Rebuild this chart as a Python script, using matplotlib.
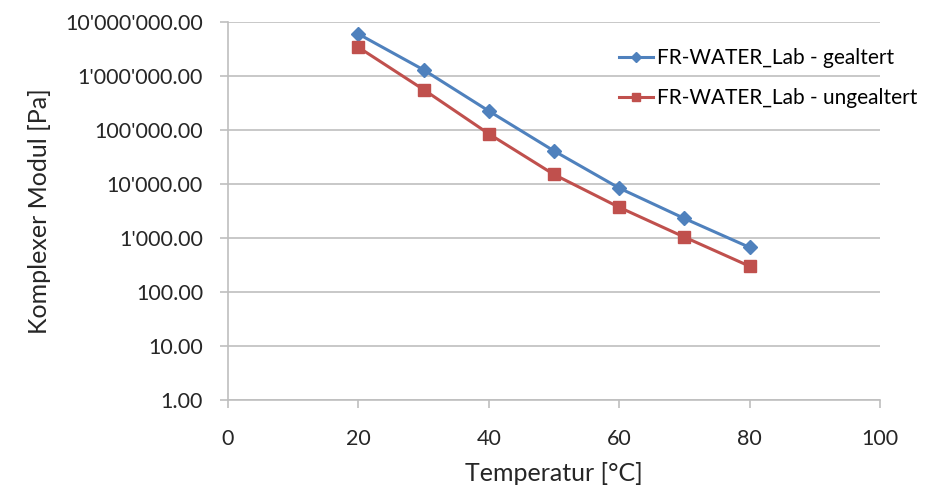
import numpy as np
import matplotlib
matplotlib.use('Agg')
import matplotlib.pyplot as plt
from matplotlib.ticker import FuncFormatter, FixedLocator, NullLocator

plt.rcParams['font.family'] = ['Lato', 'DejaVu Sans']

temps = [20, 30, 40, 50, 60, 70, 80]
aged = [6.0e6, 1.3e6, 2.25e5, 4.1e4, 8.4e3, 2.3e3, 6.7e2]
unaged = [3.4e6, 5.6e5, 8.5e4, 1.5e4, 3.7e3, 1.04e3, 3.0e2]
labels = ['FR-WATER_Lab - gealtert', 'FR-WATER_Lab - ungealtert']
yticks = [1, 10, 100, 1e3, 1e4, 1e5, 1e6, 1e7]
xticks = [0, 20, 40, 60, 80, 100]

blue = '#4F81BD'
red = '#C0504D'
grid_c = '#BFBFBF'

fig = plt.figure(figsize=(9.28, 4.92), dpi=100)
ax = fig.add_axes([228 / 928, 92 / 492, 652 / 928, 378 / 492])

ax.plot(temps, aged, color=blue, lw=2.2, marker='D', ms=7, label=labels[0], zorder=3)
ax.plot(temps, unaged, color=red, lw=2.2, marker='s', ms=8, label=labels[1], zorder=3)

ax.set_yscale('log')
ax.set_ylim(1, 1e7)
ax.set_xlim(0, 100)
ax.yaxis.set_major_locator(FixedLocator(yticks))
ax.yaxis.set_minor_locator(NullLocator())
ax.set_xticks(xticks)


def fmt(v, pos):
    return '{:,.2f}'.format(v).replace(',', "'")


ax.yaxis.set_major_formatter(FuncFormatter(fmt))

ax.grid(axis='y', color=grid_c, lw=1.2)
ax.set_axisbelow(True)
for s in ['top', 'right']:
    ax.spines[s].set_visible(False)
for s in ['left', 'bottom']:
    ax.spines[s].set_color(grid_c)
    ax.spines[s].set_linewidth(1.2)
ax.tick_params(axis='both', colors=grid_c, labelcolor='#262626', labelsize=15.5, length=6, width=1.2)
ax.tick_params(axis='y', pad=12)
ax.tick_params(axis='x', pad=15)

ax.set_xlabel('Temperatur [°C]', fontsize=18, color='#262626', labelpad=9)
ax.set_ylabel('Komplexer Modul [Pa]', fontsize=18, color='#262626', labelpad=10)

ax.legend(loc='upper left', bbox_to_anchor=(0.6, 0.93), frameon=False, fontsize=15,
          borderpad=0, borderaxespad=0, handlelength=1.6, handletextpad=0.2,
          labelspacing=0.95, markerscale=0.8)

fig.savefig('out.png', dpi=100)
